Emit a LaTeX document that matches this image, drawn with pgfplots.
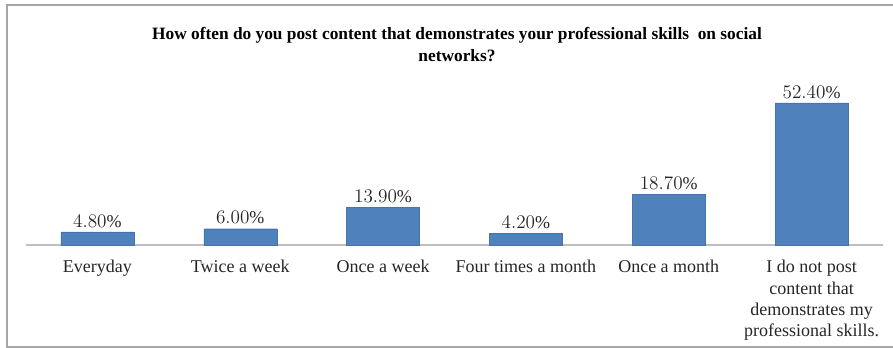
\documentclass[border=0pt]{standalone}
\usepackage{pgfplots}
\pgfplotsset{compat=1.18}
\usepackage{fontspec}
\setmainfont{Liberation Serif}
\definecolor{barblue}{HTML}{4F81BD}
\begin{document}
\begin{tikzpicture}
\useasboundingbox (0,0) rectangle (669.75pt,261pt);
\draw[gray!70, line width=1pt] (669.75pt,257.25pt) -- (5.25pt,257.25pt) -- (5.25pt,0.75pt) -- (669.75pt,0.75pt);
\node[font=\fontsize{13}{16}\selectfont\bfseries, align=center] at (342.75pt,227.5pt)
  {How often do you post content that demonstrates your professional skills\ \ on social\\networks?};
\begin{axis}[
  at={(19.5pt,77.25pt)}, anchor=south west,
  scale only axis, width=642.75pt, height=122pt,
  xmin=-0.5, xmax=5.5, ymin=0, ymax=60,
  axis x line=bottom, axis y line=none,
  axis line style={gray!50, line width=0.8pt, -},
  ybar, bar width=54.75pt,
  xtick=data, major tick length=0pt,
  xticklabels={Everyday, Twice a week, Once a week, Four times a month, Once a month, {I do not post\\content that\\demonstrates my\\professional skills.}},
  xticklabel style={font=\fontsize{13.5}{16}\selectfont, align=center, yshift=-8pt, text=black!85},
  nodes near coords={\pgfmathprintnumber[fixed, fixed zerofill, precision=2]{\pgfplotspointmeta}\%},
  nodes near coords style={font=\fontsize{13.5}{15}\selectfont, text=black!85, yshift=0pt},
  clip=false,
]
\addplot[fill=barblue, draw=barblue!90!black, line width=0.3pt] coordinates {(0,4.8) (1,6.0) (2,13.9) (3,4.2) (4,18.7) (5,52.4)};
\end{axis}
\end{tikzpicture}
\end{document}
